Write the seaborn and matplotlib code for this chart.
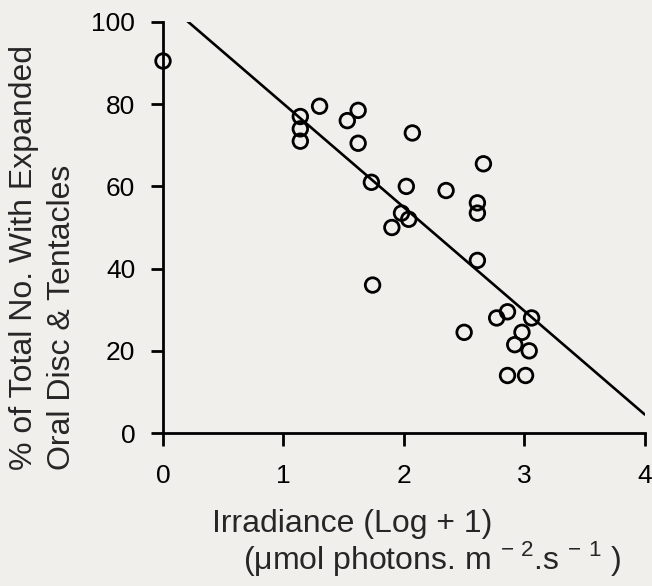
import numpy as np
import pandas as pd
import matplotlib
matplotlib.use("Agg")
import matplotlib.pyplot as plt
import seaborn as sns

# Data
irradiance = [0.00, 1.14, 1.14, 1.14, 1.30, 1.53, 1.62, 1.62, 1.73, 1.74,
              1.90, 1.98, 2.02, 2.04, 2.07, 2.35, 2.50, 2.61, 2.61, 2.61,
              2.66, 2.77, 2.86, 2.86, 2.92, 2.98, 3.01, 3.04, 3.06]
pct_expanded = [90.5, 77.0, 74.0, 71.0, 79.5, 76.0, 78.5, 70.5, 61.0, 36.0,
                50.0, 53.5, 60.0, 52.0, 73.0, 59.0, 24.5, 56.0, 53.5, 42.0,
                65.5, 28.0, 29.5, 14.0, 21.5, 24.5, 14.0, 20.0, 28.0]

# Fitted line as drawn in the figure
fit_intercept = 105.3
fit_slope = -25.2
fit_x_range = [0.17, 4.0]

data = pd.DataFrame({"Irradiance": irradiance, "Pct": pct_expanded})

sns.set_style("ticks")
plt.rcParams["font.family"] = ["Liberation Sans", "DejaVu Sans"]
bg = "#f1efec"

fig = plt.figure(figsize=(6.52, 5.86), dpi=100, facecolor=bg)
ax = fig.add_axes([0.25, 0.261, 0.739, 0.7015])
ax.set_facecolor(bg)

fx = np.array(fit_x_range)
ax.plot(fx, fit_intercept + fit_slope * fx, color="black", lw=1.9, zorder=2)

sns.scatterplot(data=data, x="Irradiance", y="Pct", ax=ax, s=110,
                facecolor="none", edgecolor="black", linewidth=2.0,
                clip_on=False, zorder=3)

ax.set_xlim(0, 4)
ax.set_ylim(0, 100)
ax.set_xticks([0, 1, 2, 3, 4])
ax.set_yticks([0, 20, 40, 60, 80, 100])
ax.set_xlabel("")
ax.set_ylabel("")
sns.despine(ax=ax)
for sp in ["left", "bottom"]:
    ax.spines[sp].set_linewidth(2.0)
    ax.spines[sp].set_color("black")
ax.tick_params(axis="both", direction="out", length=9, width=2.0,
               color="black", labelsize=19, labelcolor="black", pad=11)
ax.tick_params(axis="x", pad=13)

fig.text(212 / 652, 1 - 524 / 586, "Irradiance (Log + 1)", fontsize=23,
         ha="left", va="center")
fig.text(243 / 652, 1 - 559 / 586,
         r"($\mathregular{\mu}$mol photons. m $^{\mathregular{-\ 2}}$.s $^{\mathregular{-\ 1}}$ )",
         fontsize=23, ha="left", va="center")
fig.text(24 / 652, 1 - 470 / 586, "% of Total No. With Expanded",
         fontsize=23, rotation=90, ha="center", va="bottom")
fig.text(62 / 652, 1 - 470 / 586, "Oral Disc & Tentacles",
         fontsize=23, rotation=90, ha="center", va="bottom")

fig.savefig("out.png", dpi=100, facecolor=bg)
